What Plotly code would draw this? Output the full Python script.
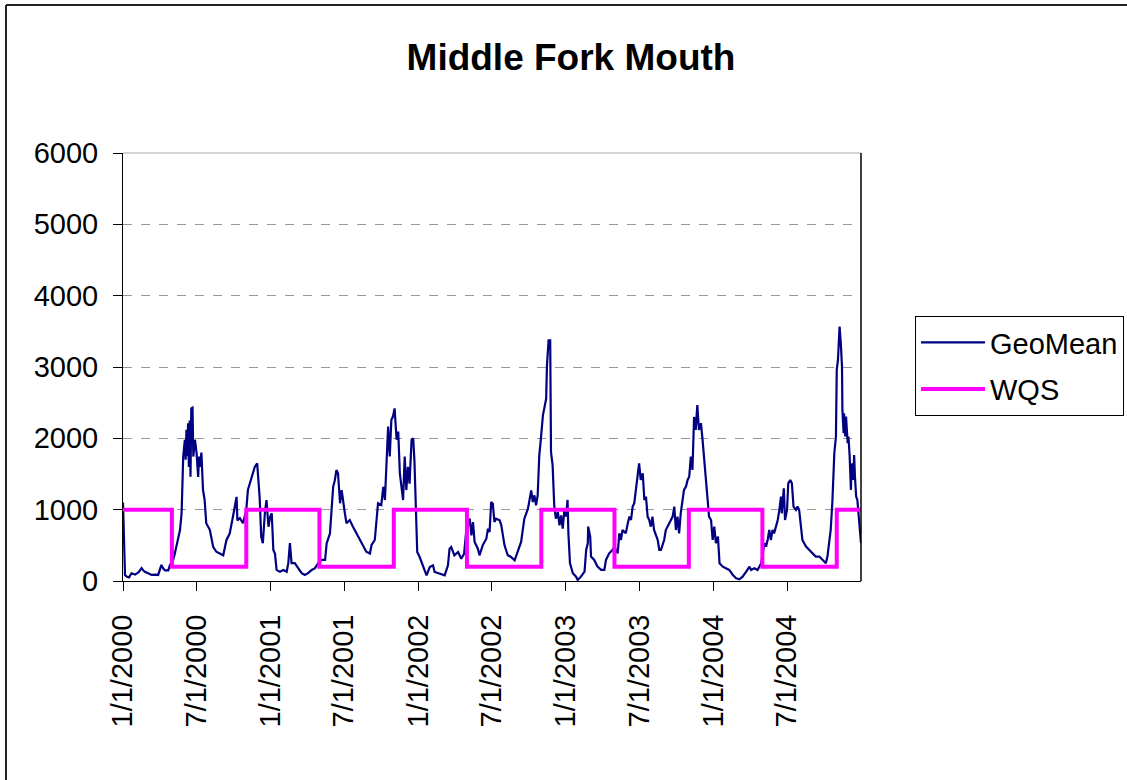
import pandas as pd
import plotly.graph_objects as go

# ---- data ----
# GeoMean: day offset from 1/1/2000 and value
geo_day = [
    0, 3, 5, 10, 15, 21, 30, 38, 46, 50, 54, 62, 71, 80, 87, 95, 100, 104, 112, 116,
    120, 124, 128, 132, 137, 141, 145, 149, 153, 155, 157, 159, 161, 163, 165, 167, 169, 172, 174, 178,
    182, 186, 188, 190, 194, 198, 202, 206, 215, 223, 231, 239, 248, 256, 264, 272, 281, 283, 289, 297,
    305, 309, 318, 326, 332, 338, 342, 346,
    351, 355, 360, 364, 368, 372, 376, 380, 388, 397, 405, 409, 413, 417, 425, 434, 442, 450, 458, 467,
    475, 483, 491, 500, 504, 512, 516, 520, 524, 528, 532, 537, 541, 545, 549, 553, 561, 569, 578, 586,
    594, 602, 611, 615, 623, 631, 639, 644, 648, 652, 656, 660, 664, 668, 672, 677, 681, 685, 689, 693,
    697, 701, 705, 709, 714, 718,
    721, 723, 726, 728, 734, 742, 751, 759, 767, 771, 783, 796, 804, 808, 812, 820, 829, 837, 844, 849,
    858, 862, 866, 870, 878, 882, 890, 899, 903, 907, 911, 915, 919, 923, 932, 936, 940, 944, 952, 960,
    969, 977, 985, 993, 1002, 1010, 1014, 1018, 1022, 1026, 1030, 1034, 1039, 1047, 1049, 1053, 1057, 1059,
    1063, 1067, 1071, 1076, 1080, 1084, 1088,
    1092, 1096, 1100, 1102, 1106, 1113, 1121, 1125, 1133, 1142, 1146, 1150, 1151, 1156, 1158, 1166, 1174,
    1183, 1191, 1195, 1203, 1211, 1216, 1224, 1228, 1232, 1236, 1244, 1249, 1253, 1257, 1261, 1265, 1269,
    1273, 1277, 1281, 1286, 1290, 1294, 1298, 1302, 1306, 1310, 1314, 1323, 1327, 1331, 1339, 1343, 1351,
    1360, 1364, 1368, 1372, 1376, 1380, 1384, 1388, 1393, 1397, 1401, 1405, 1409, 1413, 1417, 1421, 1425,
    1430, 1434, 1438, 1442, 1446, 1450,
    1455, 1459, 1463, 1467, 1472, 1476, 1484, 1492, 1500, 1509, 1517, 1525, 1533, 1542, 1550, 1554, 1562,
    1570, 1579, 1587, 1591, 1595, 1599, 1603, 1607, 1611, 1616, 1620, 1624, 1628, 1630, 1635, 1638, 1643,
    1646, 1651, 1655, 1659, 1665, 1669, 1673, 1677, 1681, 1690, 1698, 1706, 1714, 1723, 1731, 1739, 1743,
    1747, 1751, 1755, 1760, 1764, 1766, 1769, 1773, 1776, 1779, 1780, 1783, 1784, 1787, 1789, 1793, 1795,
    1798, 1801, 1803, 1807, 1809, 1811, 1814, 1817, 1820, 1823, 1826,
]
geo_val = [
    1100, 150, 80, 60, 50, 108, 90, 120, 180, 150, 130, 110, 85, 90, 85, 225, 170, 150, 150, 220,
    250, 295, 380, 480, 620, 715, 950, 1745, 1980, 1700, 2120, 1750, 2210, 1600, 2250, 1460, 2420, 2430, 1745, 1980,
    1800, 1460, 1745, 1600, 1800, 1275, 1135, 810, 715, 480, 410, 385, 360, 575, 665, 900, 1180, 850, 880, 810,
    995, 1275, 1460, 1600, 1650, 1180, 620, 530,
    950, 1135, 760, 900, 950, 435, 385, 155, 130, 155, 130, 250, 530, 250, 250, 180, 110, 85, 110, 155,
    180, 250, 295, 295, 530, 665, 950, 1320, 1410, 1555, 1510, 1090, 1275, 1090, 950, 810, 855, 760, 665, 575,
    480, 410, 385, 505, 575, 1090, 1065, 1320, 1135, 1695, 2165, 1745, 2260, 2305, 2420, 1980, 2095, 1510, 1275, 1135,
    1745, 1275, 1600, 1365, 1980, 2000,
    1700, 1250, 900, 406, 336, 220, 80, 196, 220, 126, 103, 80, 220, 453, 477, 360, 406, 313, 383, 687,
    874, 640, 827, 547, 453, 360, 500, 593, 734, 687, 1107, 1084, 827, 874, 850, 780, 640, 500, 360, 336,
    290, 406, 547, 874, 1014, 1271, 1107, 1201, 1061, 1201, 1762, 1995, 2322, 2556, 3023, 3374, 3374, 1808,
    1621, 1061, 874, 967, 780, 921, 734,
    996, 903, 1136, 668, 248, 108, 61, 14, 61, 131, 435, 529, 762, 622, 342, 295, 201,
    155, 155, 295, 388, 435, 482, 388, 668, 575, 715, 668, 809, 903, 856, 1043, 1090, 1323,
    1463, 1650, 1416, 1510, 1136, 1183, 903, 856, 762, 903, 715, 575, 435, 435, 575, 715, 809,
    903, 1043, 715, 903, 668, 949, 1090, 1277, 1323, 1416, 1463, 1744, 1557, 2300, 2118, 2468, 2118,
    2212, 1978, 1697, 1370, 1090, 903,
    855, 575, 762, 529, 622, 248, 201, 178, 155, 84, 37, 23, 61, 131, 201, 155, 178,
    155, 248, 529, 482, 575, 715, 575, 715, 668, 762, 855, 996, 1183, 949, 1300, 855, 996,
    1370, 1416, 1370, 1043, 996, 1043, 996, 809, 575, 482, 435, 388, 342, 342, 295, 248, 342,
    529, 715, 1090, 1791, 2025, 2960, 3100, 3568, 3334, 3007, 2399, 2072, 2352, 2025, 2306, 1931, 2025,
    1744, 1277, 1650, 1416, 1767, 1463, 1183, 1136, 902, 809, 529,
]

# WQS step changes (value holds until next date)
wqs_dates = ["2000-01-01", "2000-05-01", "2000-11-01", "2001-05-01", "2001-11-01", "2002-05-01",
             "2002-11-01", "2003-05-01", "2003-11-01", "2004-05-01", "2004-11-01", "2004-12-31"]
wqs_vals = [1000, 200, 1000, 200, 1000, 200, 1000, 200, 1000, 200, 1000, 1000]

tick_dates = ["2000-01-01", "2000-07-01", "2001-01-01", "2001-07-01", "2002-01-01", "2002-07-01",
              "2003-01-01", "2003-07-01", "2004-01-01", "2004-07-01"]
tick_text = ["1/1/2000", "7/1/2000", "1/1/2001", "7/1/2001", "1/1/2002", "7/1/2002",
             "1/1/2003", "7/1/2003", "1/1/2004", "7/1/2004"]

geo_dates = pd.Timestamp("2000-01-01") + pd.to_timedelta(geo_day, unit="D")

FONT = "Liberation Sans, Arial, sans-serif"

fig = go.Figure()
fig.add_trace(go.Scatter(x=geo_dates, y=geo_val, mode="lines", name="GeoMean", legendgroup="g1",
                         line=dict(color="#000080", width=2.2)))
fig.add_trace(go.Scatter(x=pd.to_datetime(wqs_dates), y=wqs_vals, mode="lines", name="WQS",
                         legendgroup="g2",
                         line=dict(color="#FF00FF", width=4, shape="hv")))

W, H = 1127, 780
L, R, T, B = 123, 861, 153, 581
pw, ph = R - L, B - T


def px_x(x):
    return (x - L) / pw


def px_y(y):
    return (B - y) / ph


fig.update_layout(
    width=W, height=H,
    margin=dict(l=L, r=W - R, t=T, b=H - B, pad=0, autoexpand=False),
    paper_bgcolor="white", plot_bgcolor="white",
    font=dict(family=FONT, size=29, color="black"),
    title=dict(text="<b>Middle Fork Mouth</b>", font=dict(size=37, family=FONT, color="black"),
               x=571 / W, xref="container", xanchor="center",
               y=1 - 57 / H, yref="container", yanchor="middle"),
    showlegend=True,
    legend=dict(x=px_x(915), y=px_y(316), xanchor="left", yanchor="top",
                bordercolor="black", borderwidth=1, bgcolor="white",
                itemwidth=64, tracegroupgap=6,
                font=dict(size=29, family=FONT, color="black")),
    xaxis=dict(range=["2000-01-01", "2004-12-31"], tickmode="array",
               tickvals=pd.to_datetime(tick_dates), ticktext=tick_text, tickangle=-90,
               ticks="outside", ticklen=9, tickcolor="black", showline=True, linecolor="black",
               linewidth=1, showgrid=False, zeroline=False, ticklabelstandoff=12,
               tickfont=dict(size=29, family=FONT, color="black")),
    yaxis=dict(range=[0, 6000], tickvals=[0, 1000, 2000, 3000, 4000, 5000, 6000],
               ticks="outside", ticklen=9, tickcolor="black", showline=True, linecolor="black",
               linewidth=1, showgrid=True, gridcolor="#999999", griddash="dash", gridwidth=1,
               zeroline=False, ticklabelstandoff=9,
               tickfont=dict(size=29, family=FONT, color="black")),
    shapes=[
        # plot area border: top (gray) and right (black)
        dict(type="line", xref="paper", yref="paper", x0=0, x1=1, y0=1, y1=1,
             line=dict(color="#aaaaaa", width=1)),
        dict(type="line", xref="paper", yref="paper", x0=1, x1=1, y0=0, y1=1,
             line=dict(color="black", width=1.5)),
        # outer chart border (left and top)
        dict(type="line", xref="paper", yref="paper", x0=px_x(6), x1=px_x(6),
             y0=px_y(5), y1=px_y(800), line=dict(color="#222222", width=2)),
        dict(type="line", xref="paper", yref="paper", x0=px_x(6), x1=px_x(1140),
             y0=px_y(5), y1=px_y(5), line=dict(color="#222222", width=2)),
    ],
)

fig.write_html("out.html", config={"displayModeBar": False},
               post_script="document.body.style.margin='0';document.body.style.overflow='hidden';")
